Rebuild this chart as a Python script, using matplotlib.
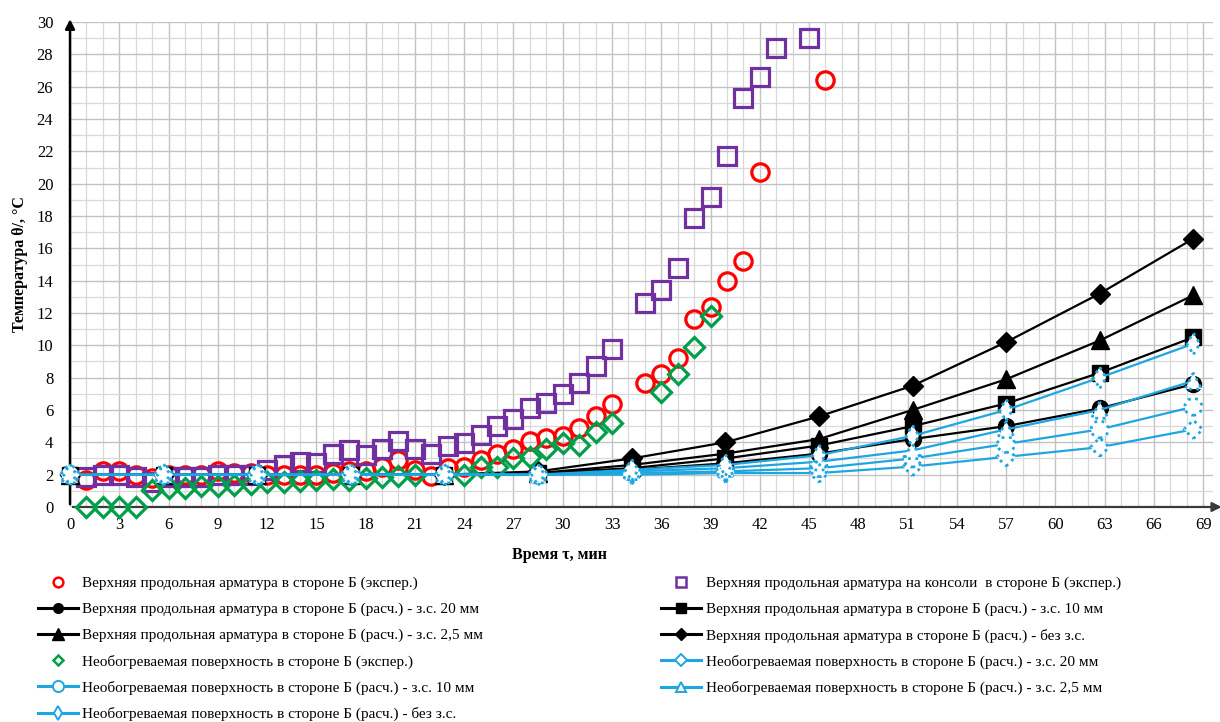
import numpy as np
import matplotlib
matplotlib.use("Agg")
import matplotlib.pyplot as plt
from matplotlib.lines import Line2D

plt.rcParams['font.family'] = ['Liberation Serif', 'DejaVu Serif']

# experimental readings, 1 min step
t_red = list(range(1, 34)) + [35, 36, 37, 38, 39, 40, 41, 42, 46]
red_exp = [1.7, 2.2, 2.2, 2.0, 1.8, 2.0, 2.0, 2.0, 2.2, 2.1, 2.1, 2.0, 2.0, 2.0, 2.0, 2.1,
           2.2, 2.2, 2.5, 2.9, 2.3, 1.9, 2.4, 2.5, 2.9, 3.3, 3.6, 4.1, 4.25, 4.4, 4.9, 5.6, 6.4,
           7.7, 8.2, 9.2, 11.6, 12.4, 14.0, 15.2, 20.7, 26.4]

t_purple = list(range(1, 34)) + [35, 36, 37, 38, 39, 40, 41, 42, 43, 45]
purple_exp = [1.85, 2.0, 2.0, 1.85, 1.55, 1.85, 1.85, 1.85, 2.0, 2.0, 2.0, 2.3, 2.6, 2.8, 2.75,
              3.3, 3.5, 3.2, 3.6, 4.1, 3.6, 3.3, 3.8, 3.95, 4.45, 5.0, 5.45, 6.1, 6.45, 7.0, 7.7,
              8.7, 9.8, 12.6, 13.4, 14.8, 17.9, 19.2, 21.7, 25.3, 26.6, 28.4, 29.0]

t_green = list(range(1, 22)) + list(range(24, 34)) + [36, 37, 38, 39]
green_exp = [0.0, 0.0, 0.0, 0.0, 1.05, 1.2, 1.2, 1.3, 1.3, 1.35, 1.4, 1.55, 1.55, 1.6, 1.7,
             1.75, 1.7, 1.8, 1.85, 1.9, 2.0, 2.0, 2.5, 2.5, 3.0, 3.1, 3.6, 3.95, 3.85, 4.65, 5.2,
             7.1, 8.2, 9.9, 11.8]

# calculated curves
t_calc = [0, 5.7, 11.4, 17.1, 22.8, 28.5, 34.2, 39.9, 45.6, 51.3, 57.0, 62.7, 68.4]
bar_20 = [2.0, 2.0, 2.0, 2.0, 2.0, 2.1, 2.3, 2.7, 3.3, 4.2, 5.0, 6.1, 7.6]
bar_10 = [2.0, 2.0, 2.0, 2.0, 2.0, 2.1, 2.4, 3.0, 3.8, 5.0, 6.4, 8.3, 10.5]
bar_25 = [2.0, 2.0, 2.0, 2.0, 2.0, 2.1, 2.6, 3.3, 4.2, 6.0, 7.9, 10.3, 13.1]
bar_none = [2.0, 2.0, 2.0, 2.0, 2.0, 2.2, 3.0, 4.0, 5.6, 7.5, 10.2, 13.2, 16.6]
surf_20 = [2.0, 2.0, 2.0, 2.0, 2.0, 2.0, 2.0, 2.1, 2.1, 2.5, 3.1, 3.7, 4.8]
surf_10 = [2.0, 2.0, 2.0, 2.0, 2.0, 2.0, 2.1, 2.2, 2.4, 3.0, 3.9, 4.8, 6.2]
surf_25 = [2.0, 2.0, 2.0, 2.0, 2.0, 2.0, 2.2, 2.4, 2.8, 3.5, 4.8, 6.0, 7.8]
surf_none = [2.0, 2.0, 2.0, 2.0, 2.0, 2.0, 2.3, 2.6, 3.2, 4.4, 6.0, 8.0, 10.1]

RED = '#ff0000'
PURPLE = '#7030a0'
GREEN = '#00a04a'
BLUE = '#1ea6e0'

fig = plt.figure(figsize=(12.2, 7.22), dpi=100)
ax = fig.add_axes([0.0574, 0.2978, 0.9369, 0.6717])

ax.set_xlim(0, 69.6)
ax.set_ylim(0, 30)
ax.set_xticks(np.arange(0, 70, 3))
ax.set_yticks(np.arange(0, 31, 2))
ax.set_xticks(np.arange(0, 70, 1), minor=True)
ax.set_yticks(np.arange(0, 31, 1), minor=True)
ax.grid(which='major', color='#c2c2c2', lw=1.0)
ax.grid(which='minor', color='#d9d9d9', lw=0.9)
ax.set_axisbelow(True)
ax.tick_params(which='both', length=0, labelsize=12)
ax.tick_params(axis='y', pad=12)
ax.tick_params(axis='x', pad=7)
for s in ax.spines.values():
    s.set_visible(False)

# axes with arrows
ax.annotate('', xy=(0, 30.35), xytext=(0, 0), xycoords='data',
            arrowprops=dict(arrowstyle='-|>', color='black', lw=1.8, mutation_scale=14),
            annotation_clip=False)
ax.annotate('', xy=(70.3, 0), xytext=(0, 0), xycoords='data',
            arrowprops=dict(arrowstyle='-|>', color='#3a3a3a', lw=1.6, mutation_scale=14),
            annotation_clip=False)

ms_exp = dict(ls='none', mfc='none', mew=2.3, clip_on=False)
ax.plot(t_red, red_exp, marker='o', ms=12.5, mec=RED, zorder=3, **ms_exp)
ax.plot(t_purple, purple_exp, marker='s', ms=13, mec=PURPLE, zorder=3, **ms_exp)

calc_black = [(bar_20, 'o', 11.5), (bar_10, 's', 11.5), (bar_25, '^', 12.5), (bar_none, 'D', 10.5)]
for vals, mk, ms in calc_black:
    ax.plot(t_calc, vals, color='black', lw=1.6, marker=mk, ms=ms, zorder=4, clip_on=False)

ax.plot(t_green, green_exp, marker='D', ms=10.5, mec=GREEN, zorder=5, **ms_exp)

calc_blue = [(surf_20, 'D', 90), (surf_10, 'o', 150), (surf_25, '^', 140), (surf_none, 'd', 120)]
for vals, mk, sz in calc_blue:
    ax.plot(t_calc, vals, color=BLUE, lw=1.6, zorder=6)
    ax.scatter(t_calc, vals, s=sz, marker=mk, facecolors='white', edgecolors=BLUE,
               linewidths=2.0, linestyle=':', zorder=7, clip_on=False)

ax.set_xlabel('Время τ, мин', fontsize=11.5, fontweight='bold')
ax.xaxis.set_label_coords(0.428, -0.082)
ax.set_ylabel('Температура θ/, °C', fontsize=11.5, fontweight='bold', labelpad=6)

# legend proxies
def exp_handle(mk, c, ms):
    return Line2D([], [], ls='none', marker=mk, ms=ms, mfc='none', mec=c, mew=1.8)

def calc_handle(mk, ms):
    return Line2D([], [], color='black', lw=2.2, marker=mk, ms=ms)

def blue_handle(mk, ms):
    return Line2D([], [], color=BLUE, lw=2.2, marker=mk, ms=ms, mfc='white', mec=BLUE,
                  mew=1.4, ls='-')

left_handles = [exp_handle('o', RED, 7), calc_handle('o', 7), calc_handle('^', 8),
                exp_handle('D', GREEN, 5.5), blue_handle('o', 8), blue_handle('d', 7)]
left_labels = ['Верхняя продольная арматура в стороне Б (экспер.)',
               'Верхняя продольная арматура в стороне Б (расч.) - з.с. 20 мм',
               'Верхняя продольная арматура в стороне Б (расч.) - з.с. 2,5 мм',
               'Необогреваемая поверхность в стороне Б (экспер.)',
               'Необогреваемая поверхность в стороне Б (расч.) - з.с. 10 мм',
               'Необогреваемая поверхность в стороне Б (расч.) - без з.с.']
right_handles = [exp_handle('s', PURPLE, 7), calc_handle('s', 7), calc_handle('D', 6.5),
                 blue_handle('D', 6), blue_handle('^', 7)]
right_labels = ['Верхняя продольная арматура на консоли  в стороне Б (экспер.)',
                'Верхняя продольная арматура в стороне Б (расч.) - з.с. 10 мм',
                'Верхняя продольная арматура в стороне Б (расч.) - без з.с.',
                'Необогреваемая поверхность в стороне Б (расч.) - з.с. 20 мм',
                'Необогреваемая поверхность в стороне Б (расч.) - з.с. 2,5 мм']

leg_kw = dict(frameon=False, fontsize=11, handlelength=2.6, handletextpad=0.3,
              labelspacing=0.8, borderpad=0, borderaxespad=0)
fig.legend(left_handles, left_labels, loc='upper left',
           bbox_to_anchor=(0.031, 0.202), **leg_kw)
fig.legend(right_handles, right_labels, loc='upper left',
           bbox_to_anchor=(0.542, 0.202), **leg_kw)

fig.savefig('out.png', dpi=100)
